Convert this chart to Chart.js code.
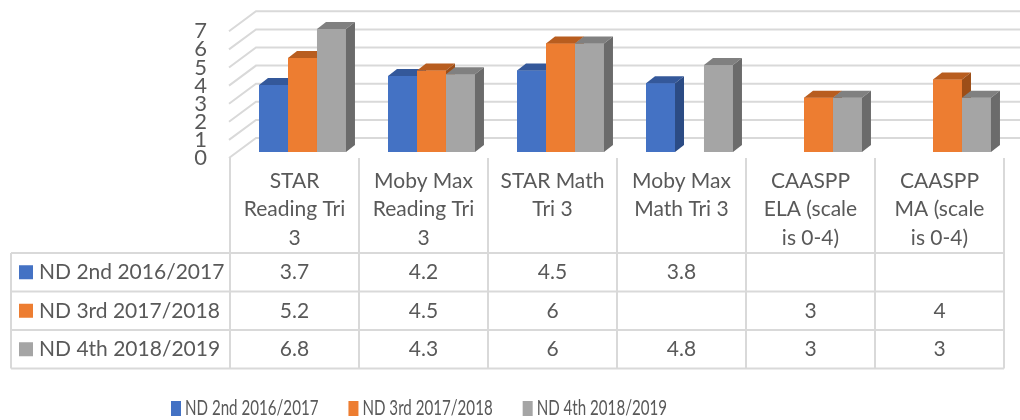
<!DOCTYPE html>
<html>
<head>
<meta charset="utf-8">
<script src="https://cdn.jsdelivr.net/npm/chart.js"></script>
<style>
  html, body { margin: 0; padding: 0; background: #fff; }
</style>
</head>
<body>
<canvas id="chart" width="1020" height="420"></canvas>
<script>
// data
const categories = [
  ['STAR', 'Reading Tri', '3'],
  ['Moby Max', 'Reading Tri', '3'],
  ['STAR Math', 'Tri 3'],
  ['Moby Max', 'Math Tri 3'],
  ['CAASPP', 'ELA (scale', 'is 0-4)'],
  ['CAASPP', 'MA (scale', 'is 0-4)']
];
const seriesNames = ['ND 2nd 2016/2017', 'ND 3rd 2017/2018', 'ND 4th 2018/2019'];
const nd2nd = [3.7, 4.2, 4.5, 3.8, null, null];
const nd3rd = [5.2, 4.5, 6, null, 3, 4];
const nd4th = [6.8, 4.3, 6, 4.8, 3, 3];
const yTicks = [0, 1, 2, 3, 4, 5, 6, 7];

const colors = ['#4472C4', '#ED7D31', '#A5A5A5'];
const topColors = ['#34589a', '#b85d1f', '#808080'];
const sideColors = ['#2b4b84', '#9c4e18', '#6b6b6b'];

const textColor = '#595959';
const lineColor = '#d9d9d9';
const mainFont = '21px Lato';
const legendFont = '21px Lato';
const LEGEND_SQUEEZE = 0.72;   // legend text in the picture is narrow

// 3d look
const BAR_DX = 8;                 // bars sit a bit behind the front edge
const DEPTH_X = 9, DEPTH_Y = -7;  // depth of a bar
const WALL_DX = 26, FLOOR_DY = 6, WALL_DY = -14;

// table rows under the axis
const HEAD_TOP = 158;
const ROW_TOP = 253;
const ROW_H = 38.5;
const TABLE_LEFT = 11;

const threeD = {
  id: 'threeD',
  beforeDatasetsDraw(chart) {
    const ctx = chart.ctx;
    const y = chart.scales.y;
    const left = chart.chartArea.left;
    ctx.save();
    ctx.strokeStyle = lineColor;
    ctx.lineWidth = 2;
    yTicks.forEach(v => {
      const py = y.getPixelForValue(v);
      ctx.beginPath();
      ctx.moveTo(left - 1, py + FLOOR_DY);
      ctx.lineTo(left + WALL_DX, py + WALL_DY);
      ctx.lineTo(chart.width, py + WALL_DY);
      ctx.stroke();
    });
    ctx.restore();
    ctx.save();
    ctx.translate(BAR_DX, 0);
  },
  afterDatasetsDraw(chart) {
    const ctx = chart.ctx;
    // draw left to right so each bar hides the side of the one before
    for (let i = 0; i < categories.length; i++) {
      chart.data.datasets.forEach((ds, d) => {
        if (ds.data[i] == null) return;
        const bar = chart.getDatasetMeta(d).data[i];
        const {x, y, base, width} = bar.getProps(['x', 'y', 'base', 'width'], true);
        const l = x - width / 2, r = x + width / 2;
        ctx.fillStyle = colors[d];
        ctx.fillRect(l, y, width, base - y);
        ctx.fillStyle = topColors[d];
        ctx.beginPath();
        ctx.moveTo(l, y);
        ctx.lineTo(l + DEPTH_X, y + DEPTH_Y);
        ctx.lineTo(r + DEPTH_X, y + DEPTH_Y);
        ctx.lineTo(r, y);
        ctx.closePath();
        ctx.fill();
        ctx.fillStyle = sideColors[d];
        ctx.beginPath();
        ctx.moveTo(r, y);
        ctx.lineTo(r + DEPTH_X, y + DEPTH_Y);
        ctx.lineTo(r + DEPTH_X, base + DEPTH_Y);
        ctx.lineTo(r, base);
        ctx.closePath();
        ctx.fill();
      });
    }
    ctx.restore();
  },
  afterDraw(chart) {
    const ctx = chart.ctx;
    const xs = chart.scales.x;
    const n = categories.length;
    const colW = (xs.right - xs.left) / n;
    const rows = chart.data.datasets.length;
    const bottom = ROW_TOP + rows * ROW_H;

    ctx.save();
    ctx.strokeStyle = lineColor;
    ctx.lineWidth = 2;
    ctx.beginPath();
    for (let i = 0; i <= n; i++) {
      const cx = xs.left + i * colW;
      ctx.moveTo(cx, HEAD_TOP);
      ctx.lineTo(cx, bottom);
    }
    ctx.moveTo(TABLE_LEFT, ROW_TOP);
    ctx.lineTo(TABLE_LEFT, bottom);
    for (let r = 0; r <= rows; r++) {
      ctx.moveTo(TABLE_LEFT, ROW_TOP + r * ROW_H);
      ctx.lineTo(xs.right, ROW_TOP + r * ROW_H);
    }
    ctx.stroke();

    ctx.font = mainFont;
    ctx.textBaseline = 'middle';
    chart.data.datasets.forEach((ds, d) => {
      const cy = ROW_TOP + d * ROW_H + ROW_H / 2;
      ctx.fillStyle = colors[d];
      ctx.fillRect(19, cy - 7, 14, 14);
      ctx.fillStyle = textColor;
      ctx.textAlign = 'left';
      ctx.fillText(ds.label, 39, cy);
      ctx.textAlign = 'center';
      ds.data.forEach((v, i) => {
        if (v == null) return;
        ctx.fillText(String(v), xs.getPixelForValue(i), cy);
      });
    });

    // legend
    ctx.font = legendFont;
    ctx.textAlign = 'left';
    let lx = 171;
    chart.data.datasets.forEach((ds, d) => {
      ctx.fillStyle = colors[d];
      ctx.fillRect(lx, 401, 10, 15);
      ctx.fillStyle = textColor;
      ctx.save();
      ctx.translate(lx + 14, 408.5);
      ctx.scale(LEGEND_SQUEEZE, 1);
      ctx.fillText(ds.label, 0, 0);
      ctx.restore();
      lx += 14 + ctx.measureText(ds.label).width * LEGEND_SQUEEZE + 30;
    });
    ctx.restore();
  }
};

new Chart(document.getElementById('chart'), {
  type: 'bar',
  data: {
    labels: categories,
    datasets: [
      { label: seriesNames[0], data: nd2nd, backgroundColor: colors[0] },
      { label: seriesNames[1], data: nd3rd, backgroundColor: colors[1] },
      { label: seriesNames[2], data: nd4th, backgroundColor: colors[2] }
    ]
  },
  options: {
    responsive: false,
    animation: false,
    devicePixelRatio: 1,
    layout: { padding: { top: 25.3, right: 16, bottom: 0, left: 0 } },
    datasets: { bar: { categoryPercentage: 0.674, barPercentage: 1 } },
    plugins: { legend: { display: false }, tooltip: { enabled: false } },
    scales: {
      x: {
        grid: { display: false, drawTicks: false },
        border: { display: false },
        ticks: {
          font: { family: 'Lato', size: 21, lineHeight: 1.35 },
          color: textColor,
          padding: 15,
          maxRotation: 0,
          autoSkip: false
        },
        afterFit(s) {
          s.height = 268;
          s.paddingLeft = 0;
          s.paddingRight = 0;
        }
      },
      y: {
        min: 0,
        max: 7,
        grid: { display: false, drawTicks: false },
        border: { display: false },
        ticks: {
          font: { family: 'Lato', size: 22 },
          color: textColor,
          padding: 23,
          labelOffset: 6,
          autoSkip: false
        },
        afterBuildTicks(s) { s.ticks = yTicks.map(v => ({ value: v })); },
        afterFit(s) {
          s.width = 230;
          s.paddingTop = 0;
          s.paddingBottom = 0;
        }
      }
    }
  },
  plugins: [threeD]
});
</script>
</body>
</html>
